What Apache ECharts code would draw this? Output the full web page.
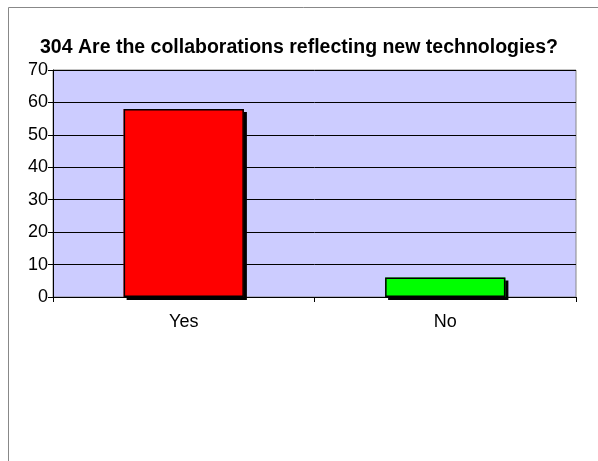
<!DOCTYPE html>
<html>
<head>
<meta charset="utf-8">
<script src="https://cdn.jsdelivr.net/npm/echarts@6/dist/echarts.min.js"></script>
<style>
html,body{margin:0;padding:0;background:#fff;}
#chart{width:598px;height:461px;}
</style>
</head>
<body>
<div id="chart"></div>
<script>
var categories = ['Yes', 'No'];
var values = [58, 6];
var barColors = ['#ff0000', '#00ff00'];

var chart = echarts.init(document.getElementById('chart'));
chart.setOption({
  animation: false,
  backgroundColor: '#fff',
  title: {
    text: '304 Are the collaborations reflecting new technologies?',
    left: 'center',
    top: 33,
    textStyle: {fontFamily: 'Liberation Sans', fontSize: 19.5, fontWeight: 'bold', color: '#000'}
  },
  graphic: [{
    type: 'rect',
    shape: {x: 8.5, y: 7.5, width: 600, height: 470},
    style: {fill: 'none', stroke: '#888', lineWidth: 1},
    silent: true
  }],
  grid: {
    left: 53, top: 70, width: 523, height: 227,
    show: true,
    backgroundColor: '#ccccff',
    borderColor: '#888',
    borderWidth: 1
  },
  xAxis: {
    type: 'category',
    data: categories,
    axisLine: {lineStyle: {color: '#000', width: 1}},
    axisTick: {show: true, length: 5, lineStyle: {color: '#000'}},
    axisLabel: {fontFamily: 'Liberation Sans', fontSize: 18, color: '#000', margin: 16}
  },
  yAxis: {
    type: 'value',
    min: 0, max: 70, interval: 10,
    axisLine: {show: true, lineStyle: {color: '#000'}},
    axisTick: {show: true, length: 5, lineStyle: {color: '#000'}},
    axisLabel: {fontFamily: 'Liberation Sans', fontSize: 18, color: '#000', margin: 5},
    splitLine: {lineStyle: {color: '#000', width: 1}}
  },
  series: [{
    // filled bars with hard black drop shadow
    type: 'bar',
    barWidth: '46%',
    data: values.map(function (v, i) {
      return {value: v, itemStyle: {color: barColors[i]}};
    }),
    itemStyle: {
      borderWidth: 0,
      shadowColor: '#000',
      shadowOffsetX: 3,
      shadowOffsetY: 3,
      shadowBlur: 0
    }
  }, {
    // outline drawn on top without shadow
    type: 'bar',
    barWidth: '46%',
    barGap: '-100%',
    data: values,
    silent: true,
    itemStyle: {color: 'rgba(0,0,0,0)', borderColor: '#000', borderWidth: 1.5}
  }]
});
</script>
</body>
</html>
